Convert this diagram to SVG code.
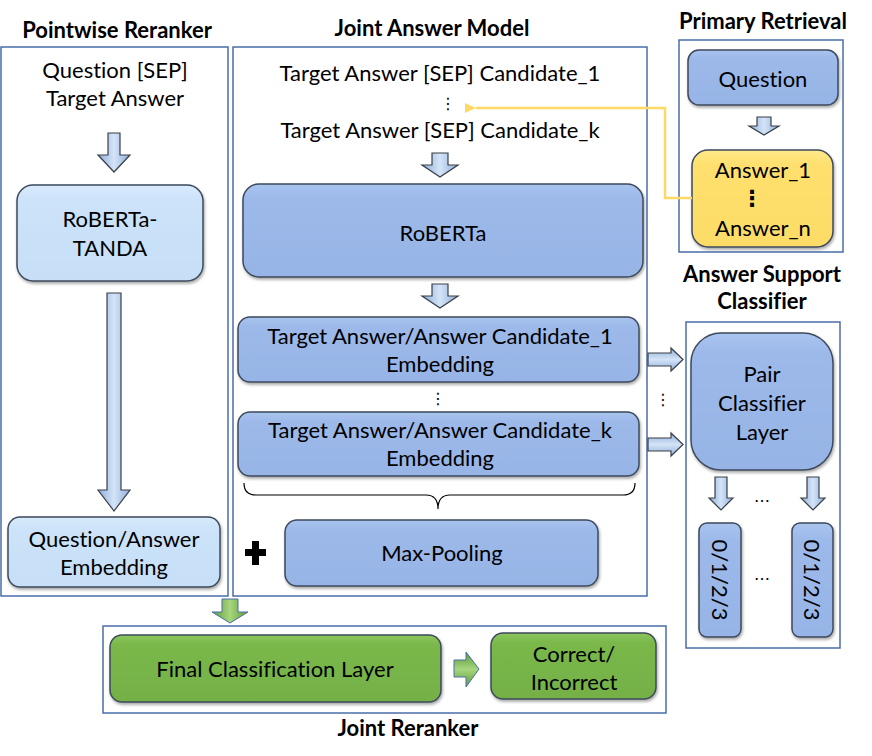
<svg xmlns="http://www.w3.org/2000/svg" width="872" height="756" viewBox="0 0 872 756">
<defs>
<linearGradient id="gBlue" x1="0" y1="0" x2="0" y2="1"><stop offset="0" stop-color="#aac4ef"/><stop offset="0.15" stop-color="#9cb9ea"/><stop offset="1" stop-color="#97b4e6"/></linearGradient>
<linearGradient id="gLight" x1="0" y1="0" x2="0" y2="1"><stop offset="0" stop-color="#d9ebfc"/><stop offset="0.15" stop-color="#cce3f9"/><stop offset="1" stop-color="#c6dff7"/></linearGradient>
<linearGradient id="gYellow" x1="0" y1="0" x2="0" y2="1"><stop offset="0" stop-color="#ffe98a"/><stop offset="0.15" stop-color="#ffe06e"/><stop offset="1" stop-color="#fcdc66"/></linearGradient>
<linearGradient id="gGreen" x1="0" y1="0" x2="0" y2="1"><stop offset="0" stop-color="#8cc65c"/><stop offset="0.15" stop-color="#7ab84b"/><stop offset="1" stop-color="#74b046"/></linearGradient>
<linearGradient id="gArrow" x1="0" y1="0" x2="1" y2="0"><stop offset="0" stop-color="#8eaedb"/><stop offset="0.5" stop-color="#d4e4f7"/><stop offset="1" stop-color="#8eaedb"/></linearGradient>
<linearGradient id="gArrowH" x1="0" y1="0" x2="0" y2="1"><stop offset="0" stop-color="#8eaedb"/><stop offset="0.5" stop-color="#d4e4f7"/><stop offset="1" stop-color="#8eaedb"/></linearGradient>
<linearGradient id="gArrowG" x1="0" y1="0" x2="1" y2="0"><stop offset="0" stop-color="#5f9a34"/><stop offset="0.5" stop-color="#a6d67e"/><stop offset="1" stop-color="#5f9a34"/></linearGradient>
<linearGradient id="gArrowGH" x1="0" y1="0" x2="0" y2="1"><stop offset="0" stop-color="#5f9a34"/><stop offset="0.5" stop-color="#a6d67e"/><stop offset="1" stop-color="#5f9a34"/></linearGradient>
<filter id="sh" x="-10%" y="-10%" width="120%" height="130%"><feDropShadow dx="1" dy="2" stdDeviation="1.5" flood-color="#000" flood-opacity="0.35"/></filter>
<marker id="mY" markerWidth="12" markerHeight="12" refX="1" refY="6" orient="auto" markerUnits="userSpaceOnUse"><path d="M12,1 L1,6 L12,11 Z" fill="#ffd966"/></marker>
</defs>
<style>
text{font-family:Lato,"Liberation Sans",sans-serif;fill:#000;font-variant-ligatures:none;}
.t{font-size:22px;text-anchor:middle;}
.h{font-size:22px;font-weight:bold;text-anchor:middle;}
.d{font-family:"DejaVu Sans",sans-serif;font-size:16px;text-anchor:middle;}
.panel{fill:#fff;stroke:#4a6ea8;stroke-width:1.5;}
.bb{fill:url(#gBlue);stroke:#3d4a5c;stroke-width:1.5;filter:url(#sh);}
.lb{fill:url(#gLight);stroke:#3d4a5c;stroke-width:1.5;filter:url(#sh);}
.yb{fill:url(#gYellow);stroke:#3d4a5c;stroke-width:1.5;filter:url(#sh);}
.gb{fill:url(#gGreen);stroke:#3d4a5c;stroke-width:1.5;filter:url(#sh);}
.ad{fill:url(#gArrow);stroke:#3a3f47;stroke-width:1.2;}
.ar{fill:url(#gArrowH);stroke:#3a3f47;stroke-width:1.2;}
.gd{fill:url(#gArrowG);stroke:#4a6ea8;stroke-width:1;}
.gr{fill:url(#gArrowGH);stroke:#4a6ea8;stroke-width:1;}
</style>

<!-- Pointwise Reranker -->
<g id="pointwise">
<text class="h" x="117" y="38">Pointwise Reranker</text>
<rect class="panel" x="1" y="47" width="227" height="549"/>
<text class="t" x="115" y="78">Question [SEP]</text>
<text class="t" x="115" y="106">Target Answer</text>
</g>
<g id="tanda">
<rect class="lb" x="17" y="185" width="186" height="96" rx="16"/>
<text class="t" x="110" y="227">RoBERTa-</text>
<text class="t" x="110" y="256">TANDA</text>
</g>
<g id="qaemb">
<rect class="lb" x="8" y="517" width="212" height="70" rx="12"/>
<text class="t" x="114" y="547">Question/Answer</text>
<text class="t" x="114" y="575">Embedding</text>
</g>

<!-- Joint Answer Model -->
<g id="jam">
<text class="h" x="432" y="36">Joint Answer Model</text>
<rect class="panel" x="233" y="47" width="414" height="549"/>
<text class="t" x="440" y="81">Target Answer [SEP] Candidate_1</text>
<text class="d" x="448" y="109">⋮</text>
<text class="t" x="440" y="138">Target Answer [SEP] Candidate_k</text>
</g>
<g id="roberta">
<rect class="bb" x="243" y="184" width="400" height="93" rx="16"/>
<text class="t" x="443" y="241">RoBERTa</text>
</g>
<g id="emb1">
<rect class="bb" x="238" y="317" width="401" height="65" rx="12"/>
<text class="t" x="440" y="344">Target Answer/Answer Candidate_1</text>
<text class="t" x="440" y="372">Embedding</text>
</g>
<text class="d" x="438" y="404">⋮</text>
<g id="embk">
<rect class="bb" x="238" y="412" width="401" height="64" rx="12"/>
<text class="t" x="440" y="438">Target Answer/Answer Candidate_k</text>
<text class="t" x="440" y="466">Embedding</text>
</g>
<g id="maxpool">
<rect class="bb" x="285" y="520" width="313" height="66" rx="12"/>
<text class="t" x="442" y="561">Max-Pooling</text>
</g>
<g id="plus">
<path d="M252,541 h7 v8 h7 v7 h-7 v9 h-7 v-9 h-7 v-7 h7 Z" fill="#000"/>
</g>

<!-- Primary Retrieval -->
<g id="primary">
<text class="h" x="763" y="29">Primary Retrieval</text>
<rect class="panel" x="679" y="40" width="164" height="212"/>
</g>
<g id="question">
<rect class="bb" x="688" y="50" width="150" height="55" rx="11"/>
<text class="t" x="763" y="87">Question</text>
</g>
<g id="answers">
<rect class="yb" x="692" y="150" width="141" height="97" rx="16"/>
<text class="t" x="763" y="178">Answer_1</text>
<text class="d" x="752" y="206" style="font-size:22px;font-weight:bold">⋮</text>
<text class="t" x="763" y="236">Answer_n</text>
</g>

<!-- Answer Support Classifier -->
<g id="asc">
<text class="h" x="762" y="282">Answer Support</text>
<text class="h" x="762" y="309">Classifier</text>
<rect class="panel" x="686" y="322" width="154" height="326"/>
</g>
<g id="pair">
<rect class="bb" x="691" y="333" width="142" height="137" rx="30"/>
<text class="t" x="762" y="382">Pair</text>
<text class="t" x="762" y="411">Classifier</text>
<text class="t" x="762" y="440">Layer</text>
</g>
<g id="out1">
<rect class="bb" x="699" y="523" width="42" height="114" rx="8"/>
<text class="t" transform="translate(720,580) rotate(90)" y="8">0/1/2/3</text>
</g>
<g id="outk">
<rect class="bb" x="792" y="523" width="41" height="114" rx="8"/>
<text class="t" transform="translate(812,580) rotate(90)" y="8">0/1/2/3</text>
</g>
<text class="d" x="762" y="502">…</text>
<text class="d" x="762" y="580">…</text>
<text class="d" x="663" y="405">⋮</text>

<!-- Joint Reranker -->
<g id="jr">
<rect class="panel" x="103" y="626" width="563" height="87"/>
<text class="h" x="408" y="736">Joint Reranker</text>
</g>
<g id="final">
<rect class="gb" x="110" y="635" width="331" height="67" rx="12"/>
<text class="t" x="275" y="677">Final Classification Layer</text>
</g>
<g id="correct">
<rect class="gb" x="491" y="633" width="165" height="66" rx="12"/>
<text class="t" x="574" y="662">Correct/</text>
<text class="t" x="574" y="690">Incorrect</text>
</g>

<!-- Connectors -->
<g id="connectors">
<polygon class="ad" points="108,133 120,133 120,155 130,155 114,172 98,155 108,155"/>
<polygon class="ad" points="107,293 121,293 121,490 130,490 114,511 98,490 107,490"/>
<polygon class="ad" points="432,153 448,153 448,165 458,165 440,177 422,165 432,165"/>
<polygon class="ad" points="432,284 448,284 448,296 458,296 440,308 422,296 432,296"/>
<polygon class="ad" points="757,117 771,117 771,126 779,126 764,135 749,126 757,126"/>
<polygon class="ad" points="715,477 727,477 727,498 733,498 721,510 709,498 715,498"/>
<polygon class="ad" points="807,477 819,477 819,498 825,498 813,510 801,498 807,498"/>
<polygon class="ar" points="648,353 671,353 671,348 683,359.5 671,371 671,366 648,366"/>
<polygon class="ar" points="648,438 671,438 671,433 683,444.5 671,456 671,451 648,451"/>
<polygon class="gd" points="222,599 238,599 238,612 248,612 230,623 212,612 222,612"/>
<polygon class="gr" points="454,660 466,660 466,652 479,669 466,687 466,677 454,677"/>
<path d="M244,483 Q244,495 256,495 L426,495 Q438,495 438,509 Q438,495 450,495 L623,495 Q635,495 635,483" fill="none" stroke="#000" stroke-width="1.2"/>
<polyline points="692,198 665,198 665,108 476,108" fill="none" stroke="#ffd966" stroke-width="2.5" marker-end="url(#mY)"/>
</g>
</svg>
